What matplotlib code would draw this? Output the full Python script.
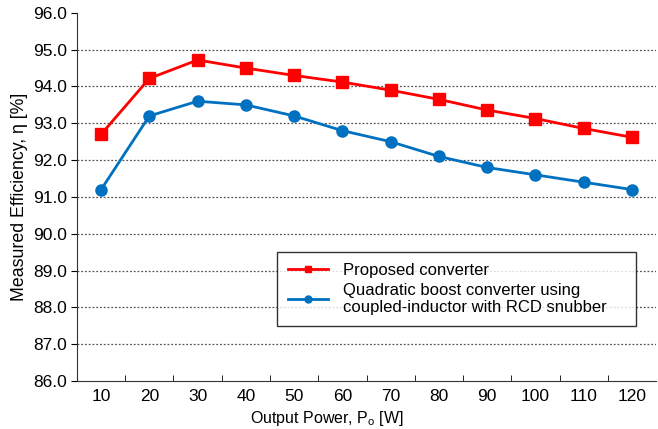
import numpy as np
import matplotlib.pyplot as plt
from matplotlib.lines import Line2D

plt.rcParams['font.family'] = ['Liberation Sans', 'DejaVu Sans']

power = [10, 20, 30, 40, 50, 60, 70, 80, 90, 100, 110, 120]
proposed = [92.7, 94.22, 94.72, 94.5, 94.3, 94.12, 93.9, 93.65, 93.36, 93.13, 92.86, 92.62]
quadratic = [91.2, 93.2, 93.6, 93.5, 93.2, 92.8, 92.5, 92.1, 91.8, 91.6, 91.4, 91.2]
yticks = np.arange(86.0, 96.01, 1.0)

RED = '#FF0000'
BLUE = '#0070C0'

fig = plt.figure(figsize=(6.58, 4.29), dpi=100)
ax = fig.add_axes([0.117, 0.112, 0.88, 0.858])

idx = np.arange(len(power))
ax.plot(idx, proposed, color=RED, lw=2, marker='s', ms=8, zorder=3)
ax.plot(idx, quadratic, color=BLUE, lw=2, marker='o', ms=8, zorder=3)

ax.set_xlim(-0.5, len(power) - 0.5)
ax.set_ylim(86, 96)
ax.set_xticks(idx)
ax.set_xticklabels([str(p) for p in power])
ax.set_xticks(idx[:-1] + 0.5, minor=True)
ax.tick_params(axis='x', which='major', length=0, pad=6, labelsize=12.5)
ax.tick_params(axis='x', which='minor', length=4, direction='in')
ax.set_yticks(yticks)
ax.set_yticklabels(['%.1f' % v for v in yticks])
ax.tick_params(axis='y', length=4, direction='out', labelsize=12.5, pad=3)

for v in yticks[1:-1]:
    ax.axhline(v, color='#555555', lw=0.9, ls=(0, (1.5, 1.5)), zorder=1)

for s in ['top', 'right']:
    ax.spines[s].set_visible(False)
ax.spines['left'].set_color('#333333')
ax.spines['bottom'].set_color('#333333')

ax.set_xlabel('Output Power, P$_\\mathregular{o}$ [W]', fontsize=11.5, labelpad=2)
ax.xaxis.set_label_coords(0.432, -0.075)
ax.set_ylabel('Measured Efficiency, η [%]', fontsize=12.8, labelpad=4)

handles = [Line2D([], [], color=RED, lw=2, marker='s', ms=5),
           Line2D([], [], color=BLUE, lw=2, marker='o', ms=5)]
labels = ['Proposed converter',
          'Quadratic boost converter using\ncoupled-inductor with RCD snubber    ']
leg = ax.legend(handles, labels, loc='upper left', bbox_to_anchor=(0.346, 0.35),
                fontsize=12, frameon=True, fancybox=False, edgecolor='black',
                handlelength=2.4, labelspacing=0.3, borderpad=0.65, handletextpad=0.9,
                borderaxespad=0)
leg.get_frame().set_linewidth(1.0)
leg.set_zorder(5)

fig.savefig('out.png', dpi=100)
